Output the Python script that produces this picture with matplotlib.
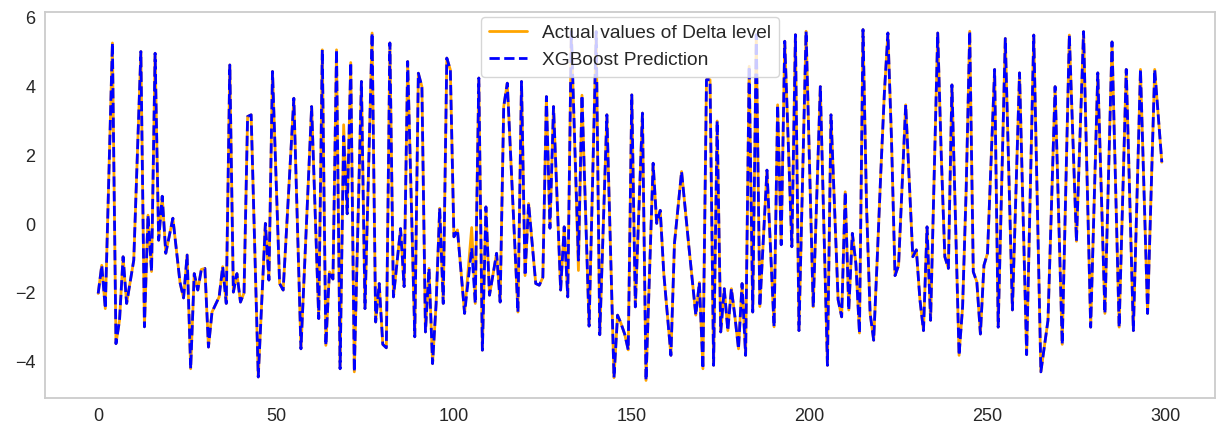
import matplotlib
matplotlib.use("Agg")
import matplotlib.pyplot as plt
import seaborn as sns

# ---- data (vertices of the series, integer time index) ----
idx = [0, 1, 2, 4, 5, 6, 7, 8, 10, 12, 13, 14, 15, 16, 17, 18, 19, 21, 23, 24,
       25, 26, 27, 28, 29, 30, 31, 32, 34, 35, 36, 37, 38, 39, 40, 41, 42, 43, 45, 47,
       48, 49, 51, 52, 55, 57, 60, 62, 63, 64, 65, 66, 67, 68, 69, 70, 71, 72, 74, 75,
       77, 78, 79, 80, 81, 82, 83, 85, 86, 87, 89, 90, 91, 92, 93, 94, 95, 96, 97, 98,
       99, 100, 101, 103, 105, 106, 107, 108, 109, 110, 112, 113, 114, 115, 118, 119, 120, 121, 123, 124,
       125, 126, 127, 128, 130, 131, 132, 133, 135, 136, 138, 140, 141, 143, 145, 146, 147, 148, 149, 150,
       151, 153, 154, 156, 157, 158, 159, 161, 162, 164, 166, 168, 169, 170, 171, 172, 173, 174, 175, 176,
       177, 178, 179, 180, 181, 182, 183, 184, 185, 186, 188, 190, 191, 192, 193, 195, 196, 197, 199, 201,
       203, 205, 206, 208, 209, 210, 211, 212, 213, 214, 215, 216, 217, 218, 219, 220, 221, 222, 223, 224,
       225, 227, 229, 230, 231, 232, 233, 234, 236, 237, 238, 239, 240, 242, 243, 244, 245, 246, 247, 248,
       249, 250, 252, 253, 255, 257, 259, 261, 263, 265, 267, 269, 271, 273, 275, 277, 279, 281, 283, 285,
       287, 289, 291, 293, 295, 297, 299]

actual = [-2.02, -1.2, -2.46, 5.27, -3.48, -2.8, -0.95, -2.31, -1.05, 5.02, -2.99, 0.26, -1.38, 4.97, -0.47, 0.81, -0.85, 0.17, -1.7, -2.15,
          -0.9, -4.21, -1.44, -1.92, -1.32, -1.29, -3.58, -2.56, -2.12, -1.24, -2.31, 4.63, -1.98, -1.44, -2.27, -2.0, 3.13, 3.18, -4.45, 0.02,
          -1.63, 4.44, -1.73, -1.92, 3.66, -3.63, 3.42, -2.75, 5.07, -3.53, -1.39, -1.6, 5.07, -4.21, 2.89, 0.3, 4.7, -4.3, 4.15, -2.46,
          5.56, -2.85, -1.73, -3.5, -3.6, 5.27, -2.12, -0.13, -1.82, 4.73, -3.28, 4.39, 4.0, -3.14, -1.29, -4.06, -2.31, 0.46, -2.31, 4.83,
          4.49, -0.37, -0.17, -2.6, -0.1, -2.31, 4.25, -3.67, 0.5, -2.07, -0.85, -2.27, 3.42, 4.1, -2.56, 4.15, -1.5, 0.6, -1.73, -1.78,
          -1.55, 3.71, -0.12, 3.42, -1.92, -0.08, -2.12, 5.6, -1.35, 3.75, -2.97, 5.6, -3.22, 3.18, -4.47, -2.65, -2.9, -3.2, -3.66, 3.76,
          -2.41, 3.23, -4.55, 1.77, 0.02, 0.4, -1.44, -3.82, -0.56, 1.53, -0.6, -2.65, -1.7, -4.21, 4.2, 4.2, -4.11, 3.0, -3.14, -1.88,
          -3.1, -1.88, -2.7, -3.63, -1.73, -3.82, 4.59, -2.56, 5.51, -2.4, 1.57, -2.99, 3.47, -0.6, 5.32, -0.66, 5.51, -3.1, 5.61, -2.41,
          4.0, -4.11, 3.18, -2.2, -2.7, 0.94, -2.5, -0.27, -1.15, -3.17, 5.66, 0.5, -2.6, -3.38, -1.0, 1.5, 3.8, 5.56, 2.5, -1.5,
          -1.2, 3.47, -0.95, -0.75, -2.2, -3.1, -0.08, -2.8, 5.56, 2.0, -0.95, -1.29, 4.05, -3.82, -2.4, 1.0, 5.61, -1.39, -1.68, -3.2,
          -1.2, -0.85, 4.5, -3.0, 5.4, -2.5, 4.4, -3.8, 5.5, -4.3, -2.8, 4.0, -3.5, 5.5, -0.5, 5.6, -3.0, 4.4, -2.6, 5.3,
          -3.0, 4.5, -3.1, 4.5, -2.6, 4.5, 1.8]

predicted = list(actual)
predicted[idx.index(69)] = 2.55
predicted[idx.index(105)] = -0.7
predicted[idx.index(135)] = -1.05

label_actual = "Actual values of Delta level"
label_pred = "XGBoost Prediction"

# ---- style ----
sns.set_theme(style="whitegrid")
plt.rcParams["font.family"] = ["Liberation Sans", "DejaVu Sans"]

fig = plt.figure(figsize=(12.26, 4.34), dpi=100)
ax = fig.add_axes([45 / 1226, 36 / 434, 1170 / 1226, 386 / 434])

ax.plot(idx, actual, color="orange", lw=2.0, label=label_actual)
ax.plot(idx, predicted, color="blue", lw=2.0, ls="--", label=label_pred)

ax.grid(False)
for s in ax.spines.values():
    s.set_color("#cccccc")
    s.set_linewidth(1.3)
ax.tick_params(axis="both", labelsize=13, colors="#262626", length=0, pad=7)
ax.set_xticks([0, 50, 100, 150, 200, 250, 300])
ax.set_yticks([-4, -2, 0, 2, 4, 6])

ax.legend(loc="upper center", fontsize=13.8, frameon=True, borderaxespad=0.25)

fig.savefig("out.png", dpi=100)
